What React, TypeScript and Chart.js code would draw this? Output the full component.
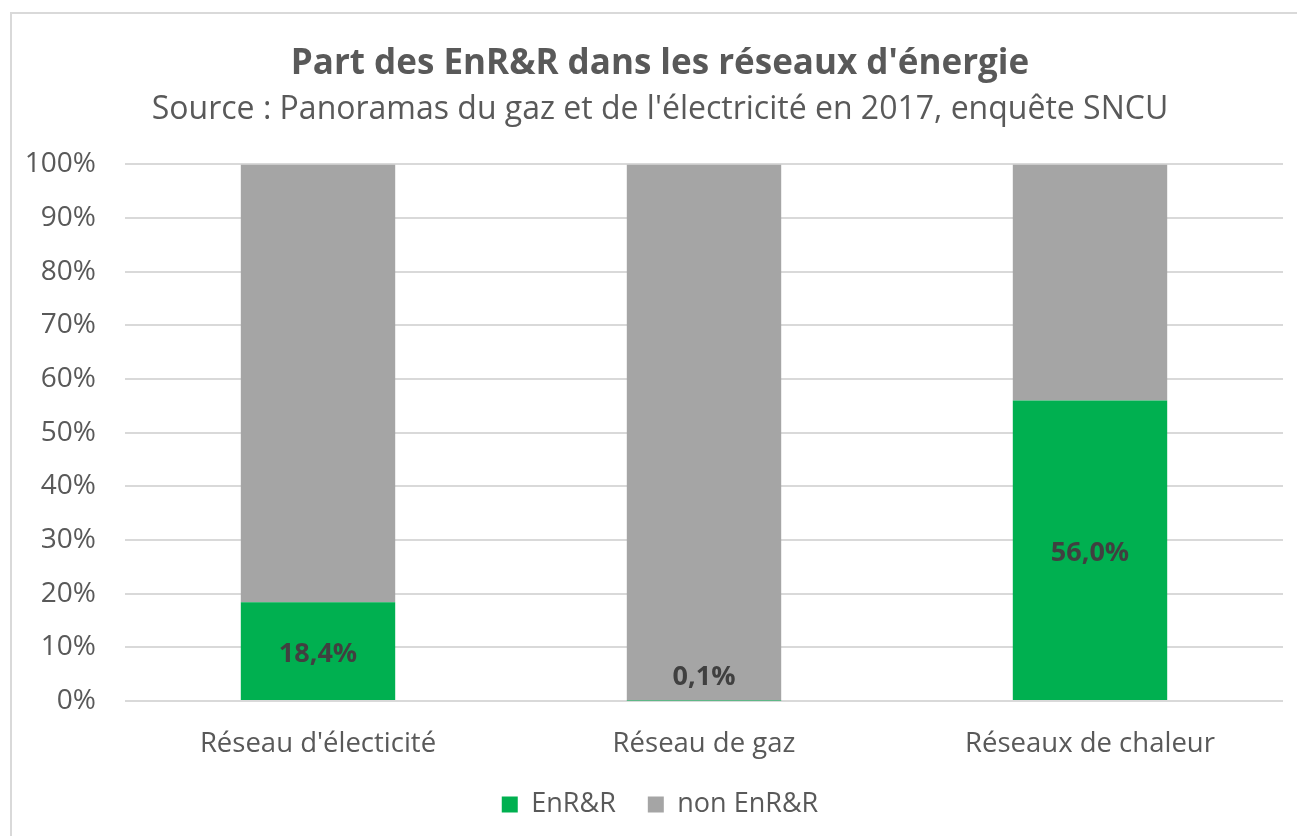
import React, { useEffect, useRef } from "react";
import { Chart, registerables } from "chart.js";

Chart.register(...registerables);

const categories = ["Réseau d'électicité", "Réseau de gaz", "Réseaux de chaleur"];
const enrValues = [18.4, 0.1, 56.0];
const nonEnrValues = [81.6, 99.9, 44.0];
const seriesNames = ["EnR&R", "non EnR&R"];
const yTicks = [0, 10, 20, 30, 40, 50, 60, 70, 80, 90, 100];

const FONT = "'Open Sans', 'Noto Sans', sans-serif";
const TEXT = "#595959";

const fmt = (v: number) => v.toFixed(1).replace(".", ",") + "%";

const framePlugin = {
  id: "frame",
  beforeDraw(chart: any) {
    const ctx = chart.ctx;
    ctx.save();
    ctx.fillStyle = "#ffffff";
    ctx.fillRect(0, 0, chart.width, chart.height);
    ctx.strokeStyle = "#d9d9d9";
    ctx.lineWidth = 2;
    ctx.strokeRect(11, 13, chart.width + 20, chart.height + 20);
    ctx.restore();
  },
};

const labelPlugin = {
  id: "barLabels",
  afterDatasetsDraw(chart: any) {
    const ctx = chart.ctx;
    const meta = chart.getDatasetMeta(0);
    ctx.save();
    ctx.font = `bold 27px ${FONT}`;
    ctx.fillStyle = "#404040";
    ctx.textAlign = "center";
    ctx.textBaseline = "middle";
    meta.data.forEach((el: any, i: number) => {
      const h = el.base - el.y;
      const y = h < 30 ? el.y - 23 : (el.y + el.base) / 2 + 3;
      ctx.fillText(fmt(enrValues[i]), el.x, y);
    });
    ctx.restore();
  },
};

export default function App() {
  const ref = useRef<HTMLCanvasElement>(null);
  useEffect(() => {
    if (!ref.current) return;
    document.body.style.margin = "0";
    const chart = new Chart(ref.current, {
      type: "bar",
      data: {
        labels: categories,
        datasets: [
          { label: seriesNames[0], data: enrValues, backgroundColor: "#00B050" },
          { label: seriesNames[1], data: nonEnrValues, backgroundColor: "#A5A5A5" },
        ],
      },
      options: {
        responsive: false,
        animation: false,
        layout: { padding: { left: 37, right: 14, top: 43, bottom: 8 } },
        datasets: { bar: { categoryPercentage: 1, barPercentage: 0.4 } },
        scales: {
          x: {
            stacked: true,
            grid: { display: false, drawTicks: false },
            border: { display: false },
            ticks: { color: TEXT, font: { family: FONT, size: 27.5 }, padding: 27 },
            afterFit: (scale: any) => {
              scale.height -= 29;
            },
          },
          y: {
            stacked: true,
            min: 0,
            max: 100,
            afterBuildTicks: (scale: any) => {
              scale.ticks = yTicks.map((v) => ({ value: v }));
            },
            afterFit: (scale: any) => {
              scale.width = 88;
              scale._computeLabelArea = () => undefined;
            },
            grid: { color: "#d9d9d9", lineWidth: 2, drawTicks: false },
            border: { display: false },
            ticks: {
              color: TEXT,
              font: { family: FONT, size: 28 },
              padding: 29,
              callback: (v: any) => v + "%",
            },
          },
        },
        plugins: {
          tooltip: { enabled: false },
          title: {
            display: true,
            text: "Part des EnR&R dans les réseaux d'énergie",
            color: TEXT,
            font: { family: FONT, size: 35, weight: "bold" },
            padding: { top: 0, bottom: 6 },
          },
          subtitle: {
            display: true,
            text: "Source : Panoramas du gaz et de l'électricité en 2017, enquête SNCU",
            color: TEXT,
            font: { family: FONT, size: 32 },
            padding: { top: 0, bottom: 35 },
          },
          legend: {
            position: "bottom",
            labels: {
              color: TEXT,
              font: { family: FONT, size: 27 },
              boxWidth: 16,
              boxHeight: 16,
              padding: 32,
            },
          },
        },
      },
      plugins: [framePlugin, labelPlugin],
    });
    return () => chart.destroy();
  }, []);
  return (
    <div style={{ position: "absolute", left: 0, top: 0 }}>
      <canvas ref={ref} width={1297} height={836} style={{ display: "block" }} />
    </div>
  );
}
